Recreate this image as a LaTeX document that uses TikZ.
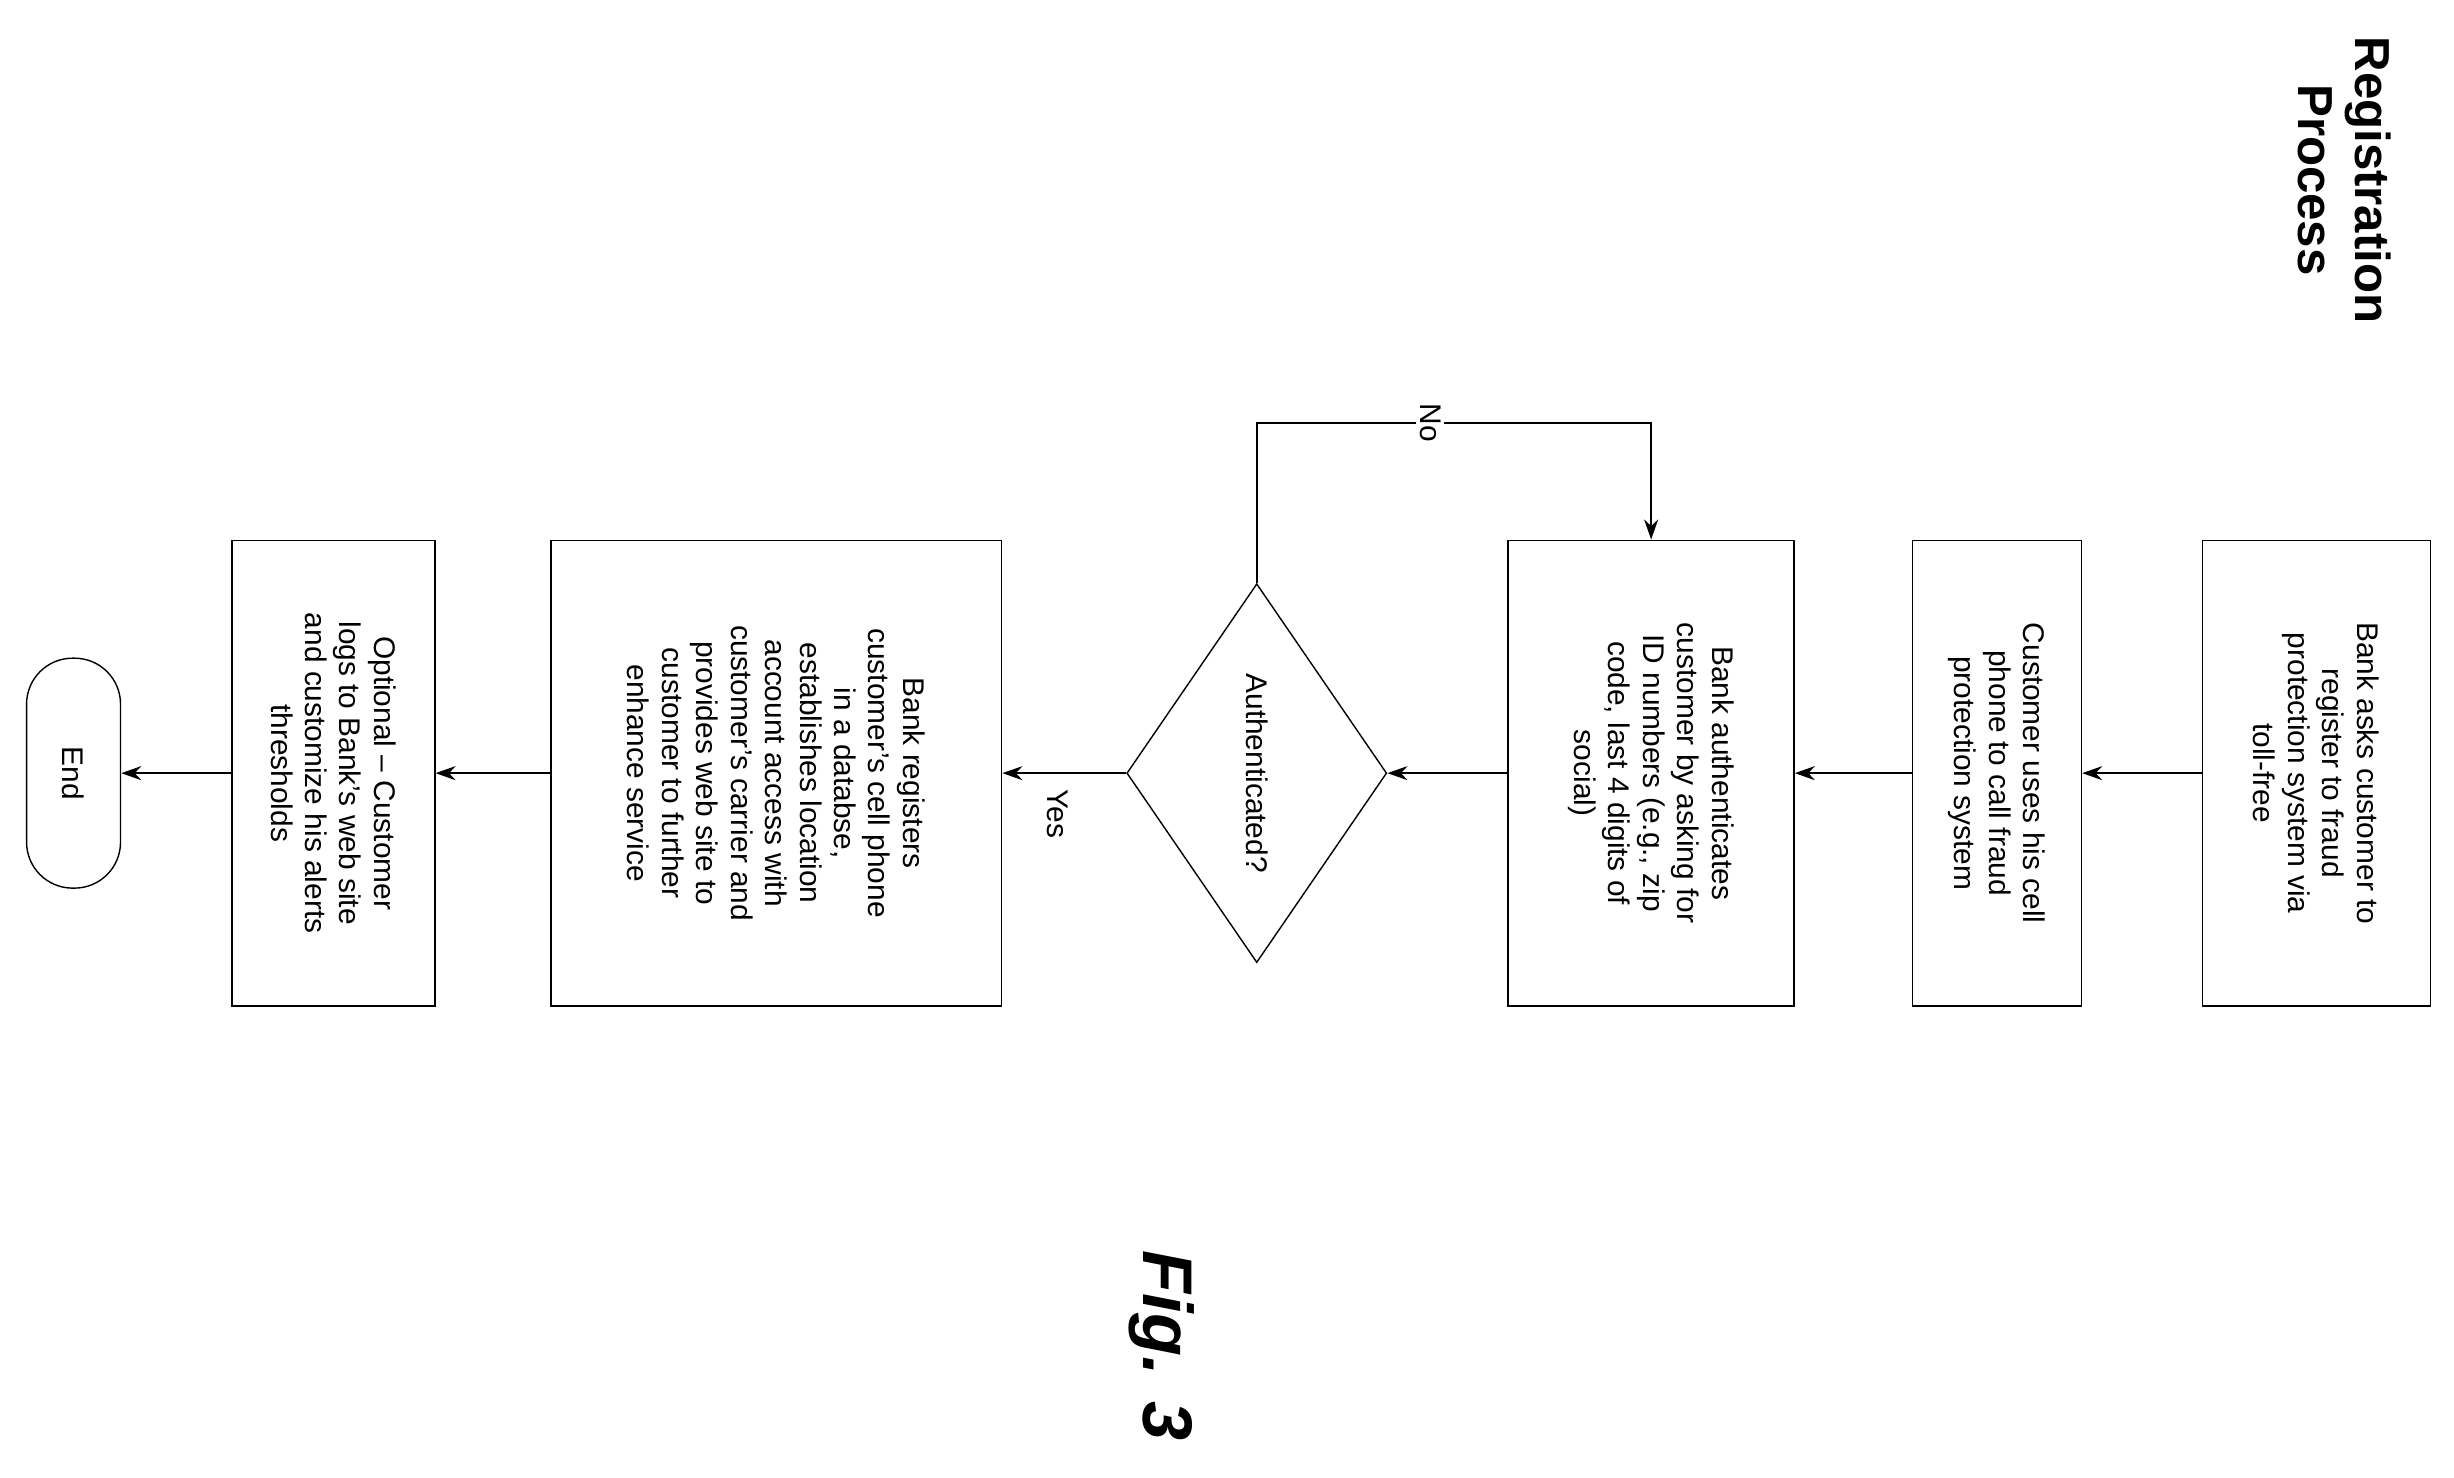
\documentclass[tikz,border=0pt]{standalone}
\usepackage{fontspec}
\setmainfont{Liberation Sans}
\usetikzlibrary{shapes.geometric,arrows.meta}
\tikzset{
  box/.style={ draw, rotate=-90, align=center, minimum width=4.66cm, inner sep=2pt,
    font=\fontsize{8.5}{9.8}\selectfont },
  dec/.style={ draw, diamond, rotate=-90, inner sep=0pt, minimum width=3.79cm,
    minimum height=2.6cm, font=\fontsize{8.5}{9.8}\selectfont },
  term/.style={ draw, rotate=-90, rounded corners=0.46cm, minimum width=2.3cm,
    minimum height=0.94cm, font=\fontsize{8.5}{9.8}\selectfont },
  flow/.style={ -{Stealth[length=2mm,width=1.4mm]}, semithick }
}
\begin{document}
\begin{tikzpicture}[x=0.01565cm, y=-0.01565cm]
  \useasboundingbox (0,0) rectangle (1568,944);
  \node[rotate=-90, align=center, font=\fontsize{14}{16}\selectfont\bfseries] (title) at (1498,115) {Registration\\Process};
  \node[rotate=-90, font=\fontsize{20}{22}\selectfont\bfseries\itshape] (fig) at (742,860) {Fig. 3};

  \node[box, minimum height=2.28cm] (ask) at (1480,494) {Bank asks customer to\\register to fraud\\protection system via\\toll-free};
  \node[box, minimum height=1.69cm] (call) at (1276,494) {Customer uses his cell\\phone to call fraud\\protection system};
  \node[box, minimum height=2.86cm] (auth) at (1055,494) {Bank authenticates\\customer by asking for\\ID numbers (e.g., zip\\code, last 4 digits of\\social)};
  \node[dec] (ok) at (803,494) {Authenticated?};
  \node[box, minimum height=4.51cm] (reg) at (496,494) {Bank registers\\customer's cell phone\\in a databse,\\establishes location\\account access with\\customer's carrier and\\provides web site to\\customer to further\\enhance service};
  \node[box, minimum height=2.03cm] (opt) at (213,494) {Optional -- Customer\\logs to Bank's web site\\and customize his alerts\\thresholds};
  \node[term] (end) at (47,494) {End};

  \draw[flow] (ask) -- (call);
  \draw[flow] (call) -- (auth);
  \draw[flow] (auth) -- (ok);
  \draw[flow] (ok) -- node[rotate=-90, pos=0.55, right=1pt, font=\fontsize{8.5}{9.8}\selectfont] {Yes} (reg);
  \draw[flow] (reg) -- (opt);
  \draw[flow] (opt) -- (end);

  \coordinate (noturn) at (803,270);
  \draw[flow] (ok.west) |- (noturn) -| node[pos=0.22, rotate=-90, fill=white, inner sep=1pt, font=\fontsize{8.5}{9.8}\selectfont] {No} (auth.west);
\end{tikzpicture}
\end{document}
